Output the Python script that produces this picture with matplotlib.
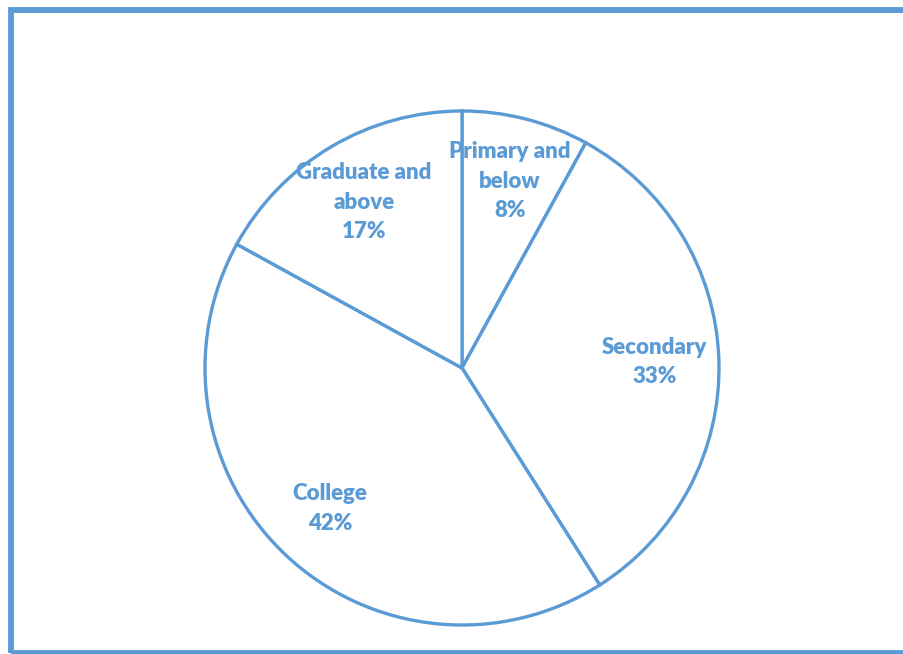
import matplotlib.pyplot as plt
from matplotlib.patches import Rectangle

#### Data ####
categories = ['Primary and\nbelow', 'Secondary', 'College', 'Graduate and\nabove']
shares = [8, 33, 42, 17]

blue = '#5B9BD5'

#### Plot ####
fig = plt.figure(figsize=(9.04, 6.54), dpi=100)
fig.patch.set_facecolor('white')

# outer frame (right edge falls outside the picture)
fig.patches.append(Rectangle((11 / 904, 1 / 654), 920 / 904, 643 / 654,
                             transform=fig.transFigure, fill=False,
                             edgecolor=blue, linewidth=4.2))

ax = fig.add_axes([0, 0, 1, 1])

labels = [f'{c}\n{s}%' for c, s in zip(categories, shares)]
wedges, texts = ax.pie(shares, labels=labels, startangle=90, counterclock=False,
                       center=(462, 286), radius=257, labeldistance=0.75,
                       wedgeprops=dict(facecolor='white', edgecolor=blue, linewidth=2.4),
                       textprops=dict(color=blue, fontsize=16, fontweight='heavy',
                                      family='Lato', linespacing=1.5))
for t in texts:
    t.set_ha('center')
    t.set_va('center')

# pie resets the limits, so set the pixel-like frame afterwards
ax.set_xlim(0, 904)
ax.set_ylim(0, 654)
ax.set_aspect('equal')
ax.axis('off')

plt.savefig('out.png', dpi=100)
